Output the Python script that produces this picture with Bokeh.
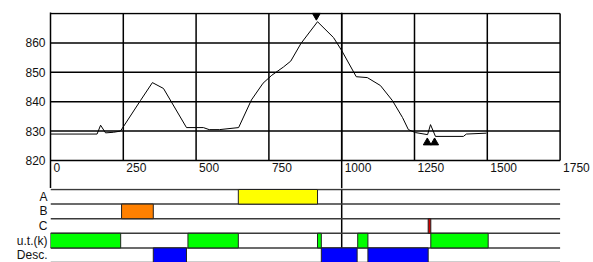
from bokeh.plotting import figure
from bokeh.layouts import column
from bokeh.models import Range1d, FixedTicker, LabelSet, ColumnDataSource, Span
from bokeh.core.properties import value
from bokeh.embed import file_html
from bokeh.resources import INLINE

FONT = "Liberation Sans"

# ---- profile data ----
dist = [0, 160, 172, 189, 216, 240, 247, 309, 350, 388, 467, 525, 545, 580, 646,
        690, 730, 760, 800, 825, 860, 917, 972, 1000, 1050, 1088, 1133, 1174,
        1209, 1229, 1253, 1295, 1305, 1322, 1418, 1428, 1497]
elev = [829.0, 829.0, 832.0, 829.4, 829.6, 830.0, 831.0, 840.4, 846.5, 844.5, 831.2,
        831.2, 830.5, 830.5, 831.2, 840.6, 846.3, 849.0, 851.8, 853.8, 859.8, 867.2,
        861.8, 857.4, 848.5, 848.2, 845.5, 840.4, 834.6, 830.5, 829.5, 828.8, 832.2,
        828.2, 828.2, 829.0, 829.3]

peak_x = [913]
peak_y = [869.3]
low_x = [1294, 1319]
low_y = [826.1, 826.1]

x_ticks = [0, 250, 500, 750, 1000, 1250, 1500, 1750]
x_labels = ["0", "250", "500", "750", "1000", "1250", "1500", "1750"]
y_ticks = [820, 830, 840, 850, 860]
y_top = 870
cursor_x = 1000

# ---- band rows ----
rows = ["Desc.", "u.t.(k)", "C", "B", "A"]  # bottom to top
band_row = ["A", "B", "C",
            "u.t.(k)", "u.t.(k)", "u.t.(k)", "u.t.(k)", "u.t.(k)",
            "Desc.", "Desc.", "Desc."]
band_start = [645, 244, 1297, 0, 472, 917, 1055, 1306, 353, 930, 1090]
band_end = [917, 353, 1306, 241, 645, 930, 1090, 1503, 467, 1053, 1297]
band_color = ["#ffff00", "#ff8000", "#d00000",
              "#00ff00", "#00ff00", "#00ff00", "#00ff00", "#00ff00",
              "#0000ff", "#0000ff", "#0000ff"]

W = 593
X_END = 1864.7  # frame extends to the page edge so that the last tick label fits

p1 = figure(width=W, height=188, x_range=Range1d(0, X_END), y_range=Range1d(810.48, 870.34),
            output_backend="svg", toolbar_location=None, x_axis_location=None,
            min_border_left=50, min_border_right=0, min_border_top=12, min_border_bottom=0)
p1.outline_line_color = None
p1.xgrid.visible = False
p1.ygrid.visible = False
p1.background_fill_color = "white"
p1.border_fill_color = "white"

ya = p1.yaxis[0]
ya.ticker = FixedTicker(ticks=y_ticks)
ya.major_tick_in = 0
ya.major_tick_out = 0
ya.minor_tick_in = 0
ya.minor_tick_out = 0
ya.axis_line_color = "black"
ya.axis_line_width = 1.5
ya.major_label_standoff = 5
ya.major_label_text_font = FONT
ya.major_label_text_font_size = "12px"
ya.major_label_text_color = "#111111"

# grid lines of the upper box
h_levels = y_ticks + [y_top]
p1.segment(x0=[x_ticks[0]] * len(h_levels), x1=[x_ticks[-1]] * len(h_levels),
           y0=h_levels, y1=h_levels, line_color="black", line_width=1.5)
v_pos = x_ticks[1:]
p1.segment(x0=v_pos, x1=v_pos, y0=[y_ticks[0]] * len(v_pos), y1=[y_top] * len(v_pos),
           line_color="black", line_width=1.5)
p1.add_layout(Span(location=cursor_x, dimension="height", line_color="black",
                   line_width=1.5, level="underlay"))

p1.line(dist, elev, line_color="black", line_width=1)
p1.scatter(peak_x, peak_y, marker="inverted_triangle", size=8, fill_color="black", line_color="black")
p1.scatter(low_x, low_y, marker="triangle", size=8, fill_color="black", line_color="black")

lab_src = ColumnDataSource(dict(x=x_ticks, y=[y_ticks[0]] * len(x_ticks), t=x_labels))
p1.add_layout(LabelSet(x="x", y="y", text="t", source=lab_src, x_offset=3, y_offset=-2,
                       text_align="left", text_baseline="top", text_font=value(FONT),
                       text_font_size="12px", text_color="#111111"))

# ---- lower band panel ----
p2 = figure(width=W, height=74, x_range=p1.x_range, y_range=Range1d(0, 5.068),
            output_backend="svg", toolbar_location=None, x_axis_location=None,
            min_border_left=50, min_border_right=0, min_border_top=0, min_border_bottom=0)
p2.outline_line_color = None
p2.xgrid.visible = False
p2.ygrid.visible = False
p2.background_fill_color = "white"
p2.border_fill_color = "white"

p2.add_layout(Span(location=cursor_x, dimension="height", line_color="black",
                   line_width=1.5, level="underlay"))

row_lines = list(range(len(rows) + 1))
p2.segment(x0=[x_ticks[0]] * len(row_lines), x1=[x_ticks[-1]] * len(row_lines),
           y0=row_lines, y1=row_lines, line_color="#3a3a3a", line_width=1.5)

ya2 = p2.yaxis[0]
ya2.ticker = FixedTicker(ticks=[i + 0.5 for i in range(len(rows))])
ya2.major_label_overrides = {i + 0.5: r for i, r in enumerate(rows)}
ya2.axis_line_color = None
ya2.major_tick_in = 0
ya2.major_tick_out = 0
ya2.minor_tick_in = 0
ya2.minor_tick_out = 0
ya2.major_label_standoff = 3
ya2.major_label_text_font = FONT
ya2.major_label_text_font_size = "12px"
ya2.major_label_text_color = "#111111"

bottoms = [rows.index(r) for r in band_row]
tops = [b + 1 for b in bottoms]
p2.quad(left=band_start, right=band_end, bottom=bottoms, top=tops,
        fill_color=band_color, line_color="#222222", line_width=1)

layout = column(p1, p2, spacing=0)
open("out.html", "w").write(file_html(layout, INLINE))
